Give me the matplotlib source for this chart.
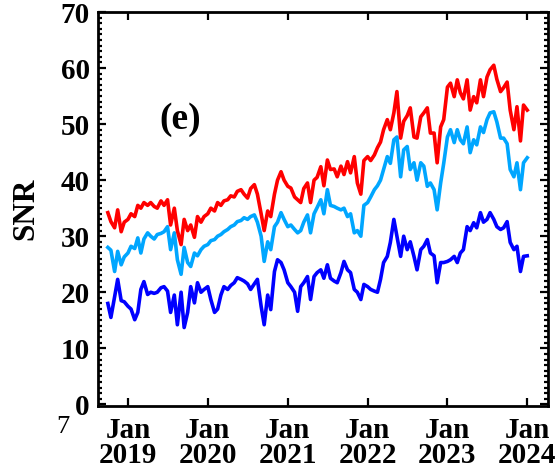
import numpy as np
import pandas as pd
import matplotlib
matplotlib.use('Agg')
import matplotlib.pyplot as plt
import matplotlib.dates as mdates
from matplotlib.ticker import MultipleLocator

# semi-monthly samples, Oct 2018 .. Jan 2024
dates = pd.date_range('2018-10-01', periods=127, freq='SMS')

snr_red = [34.2, 32.6, 31.5, 34.7, 30.8, 32.5,
           33.0, 34.0, 33.5, 35.5, 35.0, 36.0, 35.5, 36.0, 35.3, 35.0, 36.3, 35.5,
           36.5, 32.0, 35.0, 31.0, 28.5, 33.0, 31.0, 32.0, 29.8, 33.5, 32.5, 33.5,
           34.0, 35.0, 34.5, 36.0, 35.5, 36.3, 36.5, 37.2, 37.0, 38.0, 38.3, 37.5,
           36.8, 38.5, 39.2, 37.5, 34.0, 31.0, 34.5, 33.5, 37.5, 40.0, 41.5, 40.0,
           38.9, 38.6, 37.0, 36.5, 36.0, 38.5, 39.5, 36.0, 40.0, 40.5, 42.4, 39.0,
           43.6, 41.9, 42.0, 40.6, 42.5, 41.0, 43.3, 41.3, 44.2, 39.5, 37.5, 43.5,
           44.2, 43.5, 44.5, 45.8, 46.8, 49.0, 50.8, 49.0, 52.0, 55.8, 47.5, 50.5,
           51.5, 52.9, 47.7, 47.5, 51.3, 52.0, 52.9, 48.4, 48.4, 43.1, 49.5, 50.8,
           56.6, 57.3, 54.9, 57.9, 55.6, 54.5, 57.9, 52.5, 54.9, 53.8, 57.9, 54.9,
           58.4, 59.7, 60.5, 58.0, 55.8, 56.5, 57.5, 52.5, 49.0, 53.1, 47.0, 53.4,
           52.5]

snr_cyan = [28.0, 27.5, 23.7, 27.3, 24.9, 26.3,
            27.0, 28.2, 27.8, 29.7, 27.0, 29.5, 30.6, 30.0, 29.5, 30.3, 30.5, 30.8,
            31.7, 27.6, 30.6, 25.8, 23.2, 28.0, 25.3, 24.6, 27.0, 26.5, 27.6, 28.2,
            28.5, 29.2, 29.4, 30.0, 30.3, 30.8, 31.2, 31.7, 32.0, 32.6, 32.8, 33.3,
            33.0, 33.5, 33.8, 32.5, 30.0, 25.5, 29.0, 27.6, 31.7, 32.5, 34.2, 33.0,
            31.7, 32.0, 31.2, 30.6, 31.0, 32.5, 33.8, 30.6, 34.0, 35.1, 36.5, 34.0,
            38.3, 35.5, 35.3, 35.0, 34.7, 35.0, 33.5, 34.0, 30.6, 31.0, 30.0, 35.5,
            36.0, 37.0, 38.3, 39.0, 40.0, 41.9, 44.2, 43.0, 47.2, 47.7, 40.6, 45.4,
            46.0, 41.9, 43.1, 40.0, 43.1, 42.5, 38.9, 39.5, 38.3, 34.7, 39.5, 43.0,
            47.7, 49.0, 46.7, 49.0, 47.2, 46.5, 49.5, 44.9, 47.2, 46.3, 49.5, 48.5,
            50.8, 52.0, 52.2, 50.4, 47.5, 47.5, 46.5, 41.9, 40.6, 43.1, 38.3, 43.1,
            44.0]

snr_blue = [18.0, 15.5, 19.2, 22.3, 18.5, 18.3,
            17.5, 17.0, 15.1, 16.4, 20.5, 21.9, 19.6, 20.0, 19.8, 20.0, 20.8, 21.0,
            20.2, 16.4, 19.5, 14.2, 20.0, 13.7, 16.4, 21.0, 18.1, 21.7, 20.0, 20.5,
            21.0, 18.7, 16.4, 17.0, 19.5, 21.0, 20.5, 21.2, 21.7, 22.6, 22.3, 22.0,
            21.5, 20.5, 21.5, 22.3, 17.5, 14.2, 19.5, 16.9, 23.7, 25.8, 25.3, 24.0,
            21.7, 21.0, 20.0, 16.6, 21.0, 21.7, 22.8, 18.7, 22.8, 23.5, 24.0, 22.5,
            24.9, 22.5, 22.0, 21.7, 23.5, 25.5, 24.0, 23.5, 20.5, 20.0, 18.7, 21.4,
            21.0, 20.5, 20.2, 20.0, 22.3, 25.3, 26.4, 28.9, 33.0, 30.0, 26.4, 30.0,
            27.6, 29.0, 26.4, 24.0, 27.6, 28.2, 29.4, 27.0, 26.5, 21.7, 25.3, 25.3,
            25.5, 25.8, 26.4, 25.3, 27.0, 27.6, 31.7, 31.0, 32.4, 31.5, 34.2, 32.5,
            33.0, 34.2, 33.0, 31.7, 31.2, 31.5, 32.6, 28.9, 27.6, 28.2, 23.7, 26.4,
            26.5]

plt.rcParams['font.family'] = ['Liberation Serif', 'DejaVu Serif']
plt.rcParams['font.weight'] = 'bold'

fig = plt.figure(figsize=(5.6, 4.73), dpi=100)
ax = fig.add_axes([0.175, 0.1416, 0.8036, 0.833])

ax.plot(dates, snr_blue, color='#0000ff', lw=2.6)
ax.plot(dates, snr_cyan, color='#00a6ff', lw=2.6)
ax.plot(dates, snr_red, color='#ff0000', lw=2.6)

ax.set_xlim(pd.Timestamp('2018-08-17'), pd.Timestamp('2024-04-05'))
ax.set_ylim(-0.3, 70)

ax.xaxis.set_major_locator(mdates.YearLocator())
ax.xaxis.set_major_formatter(mdates.DateFormatter('%b\n%Y'))
ax.yaxis.set_major_locator(MultipleLocator(10))
ax.yaxis.set_minor_locator(MultipleLocator(1))

for s in ax.spines.values():
    s.set_linewidth(2)
ax.tick_params(which='both', direction='in', top=True, right=True, width=1.6)
ax.tick_params(which='major', length=6)
ax.tick_params(which='minor', length=3)
ax.tick_params(axis='x', which='minor', bottom=False, top=False)
ax.tick_params(axis='x', labelsize=21, pad=8)
ax.tick_params(axis='y', labelsize=21, pad=6)
plt.setp(ax.get_xticklabels(), linespacing=0.92, fontweight='bold')
plt.setp(ax.get_yticklabels(), fontweight='bold')

ax.set_ylabel('SNR', fontsize=22.5, fontweight='bold')
ax.yaxis.set_label_coords(-0.128, 0.5)
ax.text(0.182, 0.726, '(e)', transform=ax.transAxes, fontsize=27,
        fontweight='bold', ha='center', va='center')
fig.text(63 / 560, 1 - 427 / 473, '7', fontsize=19, fontweight='normal',
         ha='center', va='center')

fig.savefig('out.png', dpi=100)
